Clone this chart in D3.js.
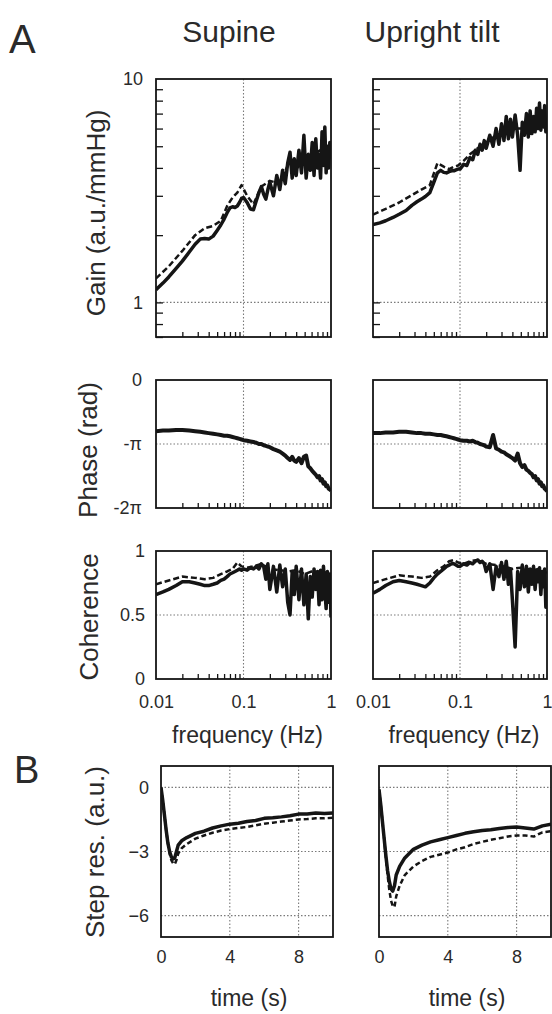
<!DOCTYPE html>
<html>
<head>
<meta charset="utf-8">
<script src="https://cdn.jsdelivr.net/npm/d3@7"></script>
<style>
  body { margin: 0; background: #fff; }
  svg { display: block; font-family: "Liberation Sans", Arial, Helvetica, sans-serif; }
</style>
</head>
<body>
<div id="chart"></div>
<script>
// Frequency grids (Hz)
const freqHz = [
  0.01, 0.012, 0.014, 0.017, 0.02, 0.024, 0.028, 0.032, 0.036, 0.04,
  0.045, 0.05, 0.055, 0.06, 0.065, 0.07, 0.075, 0.08, 0.085, 0.09,
  0.095, 0.1, 0.11, 0.12, 0.13, 0.14, 0.15, 0.16, 0.17, 0.18,
  0.19, 0.2, 0.22, 0.24, 0.26, 0.28, 0.3, 0.32, 0.34, 0.36,
  0.38, 0.4, 0.43, 0.46, 0.49, 0.52, 0.55, 0.58, 0.61, 0.64,
  0.67, 0.7, 0.73, 0.76, 0.79, 0.82, 0.85, 0.88, 0.91, 0.94,
  0.97, 1.0,
];
const freqDashed = [
  0.01, 0.014, 0.02, 0.028, 0.036, 0.045, 0.055, 0.065, 0.075, 0.085,
  0.095, 0.11, 0.13, 0.16, 0.2, 0.26, 0.32, 0.4, 0.5, 0.6,
  0.7, 0.8, 0.9, 1.0,
];
const freqMinorTicks = [0.02, 0.03, 0.04, 0.05, 0.06, 0.07, 0.08, 0.09, 0.2, 0.3, 0.4, 0.5, 0.6, 0.7, 0.8, 0.9];
const freqTickValues = [0.01, 0.1, 1];
const freqTickLabels = ["0.01", "0.1", "1"];

// Gain (a.u./mmHg)
const gainSupine = [
  1.14, 1.22, 1.30, 1.42, 1.53, 1.68, 1.82, 1.92, 1.93, 1.92,
  1.98, 2.10, 2.22, 2.36, 2.52, 2.65, 2.68, 2.66, 2.70, 2.80,
  2.92, 2.95, 2.80, 2.62, 2.60, 2.85, 3.10, 3.30, 3.05, 2.90,
  3.20, 3.45, 3.00, 3.70, 3.20, 3.90, 3.40, 4.20, 4.70, 3.60,
  4.40, 3.70, 4.80, 3.80, 5.60, 3.60, 4.60, 3.90, 5.20, 3.70,
  5.40, 4.00, 4.60, 3.60, 5.80, 4.10, 6.10, 3.80, 5.00, 4.00,
  5.20, 4.40,
];
const gainSupineDashed = [
  1.28, 1.45, 1.70, 2.00, 2.15, 2.20, 2.32, 2.70, 2.95, 3.10,
  3.35, 3.00, 2.75, 3.30, 3.50, 3.40, 4.10, 3.90, 4.50, 4.40,
  4.70, 4.90, 4.60, 4.80,
];
const gainTilt = [
  2.23, 2.27, 2.32, 2.40, 2.48, 2.58, 2.72, 2.82, 2.90, 2.98,
  3.10, 3.45, 3.80, 3.90, 3.82, 3.80, 3.85, 3.88, 3.88, 3.92,
  3.95, 3.95, 4.15, 4.10, 4.45, 4.35, 4.80, 4.60, 5.10, 4.80,
  5.30, 4.90, 5.60, 5.00, 6.00, 5.10, 6.30, 5.30, 6.80, 5.40,
  6.60, 5.50, 6.90, 5.60, 3.90, 6.40, 5.60, 7.00, 5.50, 7.20,
  5.70, 6.80, 5.80, 7.40, 6.00, 7.80, 5.90, 7.20, 6.10, 7.60,
  5.80, 6.20,
];
const gainTiltDashed = [
  2.47, 2.62, 2.80, 3.02, 3.20, 3.35, 4.20, 4.05, 3.95, 4.05,
  4.10, 4.30, 4.60, 4.90, 5.20, 5.60, 5.80, 6.00, 6.00, 6.30,
  6.40, 6.50, 6.60, 6.40,
];
const gainMinorTicks = [0.7, 0.8, 0.9, 1, 2, 3, 4, 5, 6, 7, 8, 9];
const gainTickValues = [1, 10];
const gainTickLabels = ["1", "10"];

// Phase, in multiples of pi
const phaseSupine = [
  -0.80, -0.79, -0.79, -0.78, -0.78, -0.79, -0.80, -0.81, -0.82, -0.83,
  -0.84, -0.85, -0.86, -0.87, -0.87, -0.88, -0.89, -0.90, -0.91, -0.92,
  -0.93, -0.94, -0.95, -0.96, -0.97, -0.98, -1.00, -1.00, -1.02, -1.03,
  -1.04, -1.05, -1.08, -1.10, -1.12, -1.15, -1.18, -1.22, -1.25, -1.20,
  -1.26, -1.28, -1.22, -1.30, -1.20, -1.18, -1.35, -1.38, -1.42, -1.45,
  -1.48, -1.52, -1.50, -1.57, -1.55, -1.62, -1.60, -1.66, -1.65, -1.70,
  -1.71, -1.73,
];
const phaseTilt = [
  -0.83, -0.83, -0.82, -0.82, -0.81, -0.81, -0.82, -0.83, -0.83, -0.84,
  -0.84, -0.85, -0.86, -0.86, -0.87, -0.88, -0.89, -0.90, -0.91, -0.92,
  -0.93, -0.94, -0.95, -0.95, -0.96, -0.95, -0.97, -0.98, -1.00, -1.01,
  -1.02, -1.04, -1.05, -0.86, -1.07, -1.09, -1.12, -1.13, -1.16, -1.18,
  -1.20, -1.22, -1.26, -1.15, -1.30, -1.36, -1.33, -1.40, -1.42, -1.45,
  -1.47, -1.52, -1.50, -1.57, -1.55, -1.62, -1.60, -1.66, -1.65, -1.70,
  -1.71, -1.74,
];
const phaseTickValues = [-2, -1, 0];
const phaseTickLabels = ["-2\u03c0", "-\u03c0", "0"];

// Coherence
const cohSupine = [
  0.66, 0.68, 0.70, 0.73, 0.76, 0.76, 0.75, 0.74, 0.73, 0.73,
  0.74, 0.75, 0.77, 0.78, 0.80, 0.82, 0.83, 0.84, 0.85, 0.86,
  0.85, 0.86, 0.85, 0.87, 0.86, 0.88, 0.86, 0.90, 0.88, 0.78,
  0.90, 0.70, 0.88, 0.68, 0.89, 0.72, 0.86, 0.60, 0.50, 0.84,
  0.66, 0.88, 0.62, 0.86, 0.58, 0.82, 0.47, 0.80, 0.64, 0.86,
  0.70, 0.84, 0.58, 0.85, 0.62, 0.88, 0.70, 0.55, 0.84, 0.60,
  0.82, 0.48,
];
const cohSupineDashed = [
  0.74, 0.77, 0.80, 0.79, 0.78, 0.79, 0.82, 0.84, 0.86, 0.91,
  0.88, 0.87, 0.88, 0.90, 0.86, 0.85, 0.84, 0.85, 0.82, 0.84,
  0.83, 0.85, 0.82, 0.80,
];
const cohTilt = [
  0.67, 0.70, 0.73, 0.76, 0.77, 0.76, 0.75, 0.74, 0.73, 0.72,
  0.75, 0.79, 0.82, 0.84, 0.86, 0.88, 0.89, 0.90, 0.90, 0.89,
  0.88, 0.88, 0.90, 0.89, 0.91, 0.90, 0.92, 0.93, 0.91, 0.92,
  0.90, 0.84, 0.90, 0.70, 0.88, 0.80, 0.91, 0.78, 0.92, 0.74,
  0.86, 0.62, 0.25, 0.84, 0.70, 0.89, 0.72, 0.88, 0.68, 0.86,
  0.74, 0.88, 0.70, 0.85, 0.76, 0.87, 0.66, 0.84, 0.72, 0.86,
  0.56, 0.70,
];
const cohTiltDashed = [
  0.75, 0.78, 0.81, 0.80, 0.79, 0.80, 0.85, 0.88, 0.92, 0.93,
  0.91, 0.90, 0.92, 0.93, 0.90, 0.89, 0.88, 0.86, 0.87, 0.86,
  0.85, 0.86, 0.84, 0.83,
];
const cohTickValues = [0, 0.5, 1];
const cohTickLabels = ["0", "0.5", "1"];

// Step responses (a.u.)
const timeS = [
  0, 0.1, 0.2, 0.3, 0.4, 0.5, 0.6, 0.7, 0.8, 0.9,
  1.0, 1.2, 1.5, 2, 2.5, 3, 3.5, 4, 4.5, 5,
  5.5, 6, 6.5, 7, 7.5, 8, 8.5, 9, 9.5, 10,
];
const stepSupine = [
  0, -0.6, -1.3, -2.0, -2.6, -3.0, -3.25, -3.35, -3.3, -3.0,
  -2.7, -2.5, -2.35, -2.15, -2.05, -1.9, -1.8, -1.72, -1.68, -1.6,
  -1.55, -1.45, -1.42, -1.38, -1.33, -1.25, -1.25, -1.2, -1.22, -1.2,
];
const stepSupineDashed = [
  0, -0.6, -1.3, -2.0, -2.6, -3.1, -3.4, -3.55, -3.6, -3.4,
  -3.1, -2.85, -2.65, -2.4, -2.25, -2.12, -2.02, -1.95, -1.9, -1.85,
  -1.78, -1.7, -1.65, -1.6, -1.55, -1.5, -1.48, -1.45, -1.45, -1.42,
];
const stepTilt = [
  -0.1, -0.8, -1.6, -2.4, -3.2, -3.9, -4.4, -4.75, -4.85, -4.6,
  -4.1, -3.7, -3.3, -2.9, -2.7, -2.55, -2.45, -2.35, -2.25, -2.15,
  -2.08, -2.02, -1.98, -1.92, -1.88, -1.85, -1.9, -1.95, -1.8, -1.72,
];
const stepTiltDashed = [
  -0.1, -0.8, -1.6, -2.4, -3.3, -4.1, -4.8, -5.3, -5.55, -5.6,
  -5.1, -4.6, -4.1, -3.7, -3.45, -3.25, -3.15, -3.05, -2.9, -2.8,
  -2.65, -2.55, -2.45, -2.38, -2.3, -2.25, -2.25, -2.3, -2.1, -2.05,
];
const timeTickValues = [0, 4, 8];
const timeTickLabels = ["0", "4", "8"];
const stepTickValues = [-6, -3, 0];
const stepTickLabels = ["\u22126", "\u22123", "0"];

// Layout
const WIDTH = 552;
const HEIGHT = 1014;
const INK = "#151515";
const TEXT = "#2a2a2a";

const colsA = [
  { x0: 156, x1: 331 },
  { x0: 373, x1: 547 },
];
const rowGain = { y0: 79, y1: 337 };
const rowPhase = { y0: 380, y1: 508 };
const rowCoh = { y0: 551, y1: 679 };
const colsB = [
  { x0: 161, x1: 333 },
  { x0: 379, x1: 551 },
];
const rowStep = { y0: 766, y1: 937 };

const svg = d3
  .select("#chart")
  .append("svg")
  .attr("width", WIDTH)
  .attr("height", HEIGHT);

const defs = svg.append("defs");
let clipCount = 0;

function drawPanel(x, y, opts) {
  const [xa, xb] = x.range();
  const [yb, ya] = y.range();
  const g = svg.append("g");
  const clipId = "clip" + clipCount++;

  defs
    .append("clipPath")
    .attr("id", clipId)
    .append("rect")
    .attr("x", xa)
    .attr("y", ya)
    .attr("width", xb - xa)
    .attr("height", yb - ya);

  // dotted grid
  g.selectAll(".gx")
    .data(opts.gridX || [])
    .enter()
    .append("line")
    .attr("x1", (d) => x(d))
    .attr("x2", (d) => x(d))
    .attr("y1", ya)
    .attr("y2", yb)
    .attr("stroke", "#7a7a7a")
    .attr("stroke-width", 1.1)
    .attr("stroke-dasharray", "1.5,2");

  g.selectAll(".gy")
    .data(opts.gridY || [])
    .enter()
    .append("line")
    .attr("x1", xa)
    .attr("x2", xb)
    .attr("y1", (d) => y(d))
    .attr("y2", (d) => y(d))
    .attr("stroke", "#7a7a7a")
    .attr("stroke-width", 1.1)
    .attr("stroke-dasharray", "1.5,2");

  // inward minor ticks
  if (opts.xMinor) {
    g.append("g")
      .attr("transform", `translate(0,${yb})`)
      .attr("color", INK)
      .call(d3.axisBottom(x).tickValues(opts.xMinor).tickSize(-5).tickFormat(""))
      .call((a) => a.select(".domain").remove())
      .selectAll("line")
      .attr("stroke-width", 1.3);
  }
  if (opts.yMinor) {
    g.append("g")
      .attr("transform", `translate(${xa},0)`)
      .attr("color", INK)
      .call(d3.axisLeft(y).tickValues(opts.yMinor).tickSize(-7).tickFormat(""))
      .call((a) => a.select(".domain").remove())
      .selectAll("line")
      .attr("stroke-width", 1.3);
  }

  // data lines
  opts.series.forEach((s) => {
    const pts = s.values.map((v, i) => [s.x[i], v]);
    g.append("path")
      .datum(pts)
      .attr("clip-path", `url(#${clipId})`)
      .attr("fill", "none")
      .attr("stroke", INK)
      .attr("stroke-width", s.width)
      .attr("stroke-dasharray", s.dash || null)
      .attr("stroke-linejoin", "round")
      .attr(
        "d",
        d3
          .line()
          .x((d) => x(d[0]))
          .y((d) => y(d[1]))
      );
  });

  // frame
  g.append("rect")
    .attr("x", xa)
    .attr("y", ya)
    .attr("width", xb - xa)
    .attr("height", yb - ya)
    .attr("fill", "none")
    .attr("stroke", INK)
    .attr("stroke-width", 1.8);
}

function tickLabelsLeft(y, xPos, values, labels) {
  svg.append("g")
    .attr("transform", `translate(${xPos},0)`)
    .call(
      d3.axisLeft(y).tickValues(values).tickSize(0).tickPadding(0)
        .tickFormat((d) => labels[values.indexOf(d)])
    )
    .call((a) => a.select(".domain").remove())
    .attr("font-family", null)
    .attr("font-size", 18)
    .selectAll("text")
    .attr("fill", TEXT);
}

// labels sit with their baseline on yPos
function tickLabelsBottom(x, yPos, values, labels) {
  svg.append("g")
    .attr("transform", `translate(0,${yPos})`)
    .call(
      d3.axisBottom(x).tickValues(values).tickSize(0).tickPadding(0)
        .tickFormat((d) => labels[values.indexOf(d)])
    )
    .call((a) => a.select(".domain").remove())
    .attr("font-family", null)
    .attr("font-size", 18)
    .selectAll("text")
    .attr("dy", null)
    .attr("fill", TEXT);
}

function addText(str, x, y, size, anchor, rotate) {
  const t = svg.append("text")
    .attr("fill", TEXT)
    .attr("font-size", size)
    .attr("text-anchor", anchor)
    .text(str);
  if (rotate) {
    t.attr("transform", `translate(${x},${y}) rotate(-90)`);
  } else {
    t.attr("x", x).attr("y", y);
  }
}

// ---- Panel A ----
const gainData = [
  { solid: gainSupine, dashed: gainSupineDashed },
  { solid: gainTilt, dashed: gainTiltDashed },
];
const phaseData = [phaseSupine, phaseTilt];
const cohData = [
  { solid: cohSupine, dashed: cohSupineDashed },
  { solid: cohTilt, dashed: cohTiltDashed },
];

colsA.forEach((col, c) => {
  const x = d3.scaleLog().domain([0.01, 1]).range([col.x0, col.x1]);

  // gain
  const yGain = d3.scaleLog().domain([0.7, 10]).range([rowGain.y1, rowGain.y0]);
  drawPanel(x, yGain, {
    gridX: [0.1],
    gridY: [1],
    xMinor: freqMinorTicks,
    yMinor: gainMinorTicks,
    series: [
      { x: freqDashed, values: gainData[c].dashed, width: 2.5, dash: "6,3" },
      { x: freqHz, values: gainData[c].solid, width: 3.5 },
    ],
  });
  if (c === 0) tickLabelsLeft(yGain, col.x0 - 13, gainTickValues, gainTickLabels);

  // phase
  const yPhase = d3.scaleLinear().domain([-2, 0]).range([rowPhase.y1, rowPhase.y0]);
  drawPanel(x, yPhase, {
    gridX: [0.1],
    gridY: [-1],
    xMinor: freqMinorTicks,
    series: [{ x: freqHz, values: phaseData[c], width: 4 }],
  });
  if (c === 0) tickLabelsLeft(yPhase, col.x0 - 14, phaseTickValues, phaseTickLabels);

  // coherence
  const yCoh = d3.scaleLinear().domain([0, 1]).range([rowCoh.y1, rowCoh.y0]);
  drawPanel(x, yCoh, {
    gridX: [0.1],
    gridY: [0.5],
    xMinor: freqMinorTicks,
    series: [
      { x: freqDashed, values: cohData[c].dashed, width: 2.5, dash: "6,3" },
      { x: freqHz, values: cohData[c].solid, width: 3.5 },
    ],
  });
  if (c === 0) tickLabelsLeft(yCoh, col.x0 - 11, cohTickValues, cohTickLabels);
  tickLabelsBottom(x, 708, freqTickValues, freqTickLabels);

  addText("frequency (Hz)", (col.x0 + col.x1) / 2 + 4, 743, 23, "middle");
});

// ---- Panel B ----
const stepData = [
  { solid: stepSupine, dashed: stepSupineDashed },
  { solid: stepTilt, dashed: stepTiltDashed },
];

colsB.forEach((col, c) => {
  const x = d3.scaleLinear().domain([0, 10]).range([col.x0, col.x1]);
  const y = d3.scaleLinear().domain([-7, 1]).range([rowStep.y1, rowStep.y0]);
  drawPanel(x, y, {
    gridX: [4, 8],
    gridY: [-6, -3, 0],
    series: [
      { x: timeS, values: stepData[c].dashed, width: 2.5, dash: "5,3" },
      { x: timeS, values: stepData[c].solid, width: 3.5 },
    ],
  });
  if (c === 0) tickLabelsLeft(y, col.x0 - 12, stepTickValues, stepTickLabels);
  tickLabelsBottom(x, 963, timeTickValues, timeTickLabels);
  addText("time (s)", (col.x0 + col.x1) / 2 + 2, 1006, 23, "middle");
});

// Titles and axis labels
addText("A", 9, 53, 40, "start");
addText("B", 14, 783, 38, "start");
addText("Supine", 229, 42, 30, "middle");
addText("Upright tilt", 432, 42, 30, "middle");
addText("Gain (a.u./mmHg)", 105, 213, 26, "middle", true);
addText("Phase (rad)", 97, 450, 26, "middle", true);
addText("Coherence", 98, 617, 26, "middle", true);
addText("Step res. (a.u.)", 104, 852, 26, "middle", true);
</script>
</body>
</html>
